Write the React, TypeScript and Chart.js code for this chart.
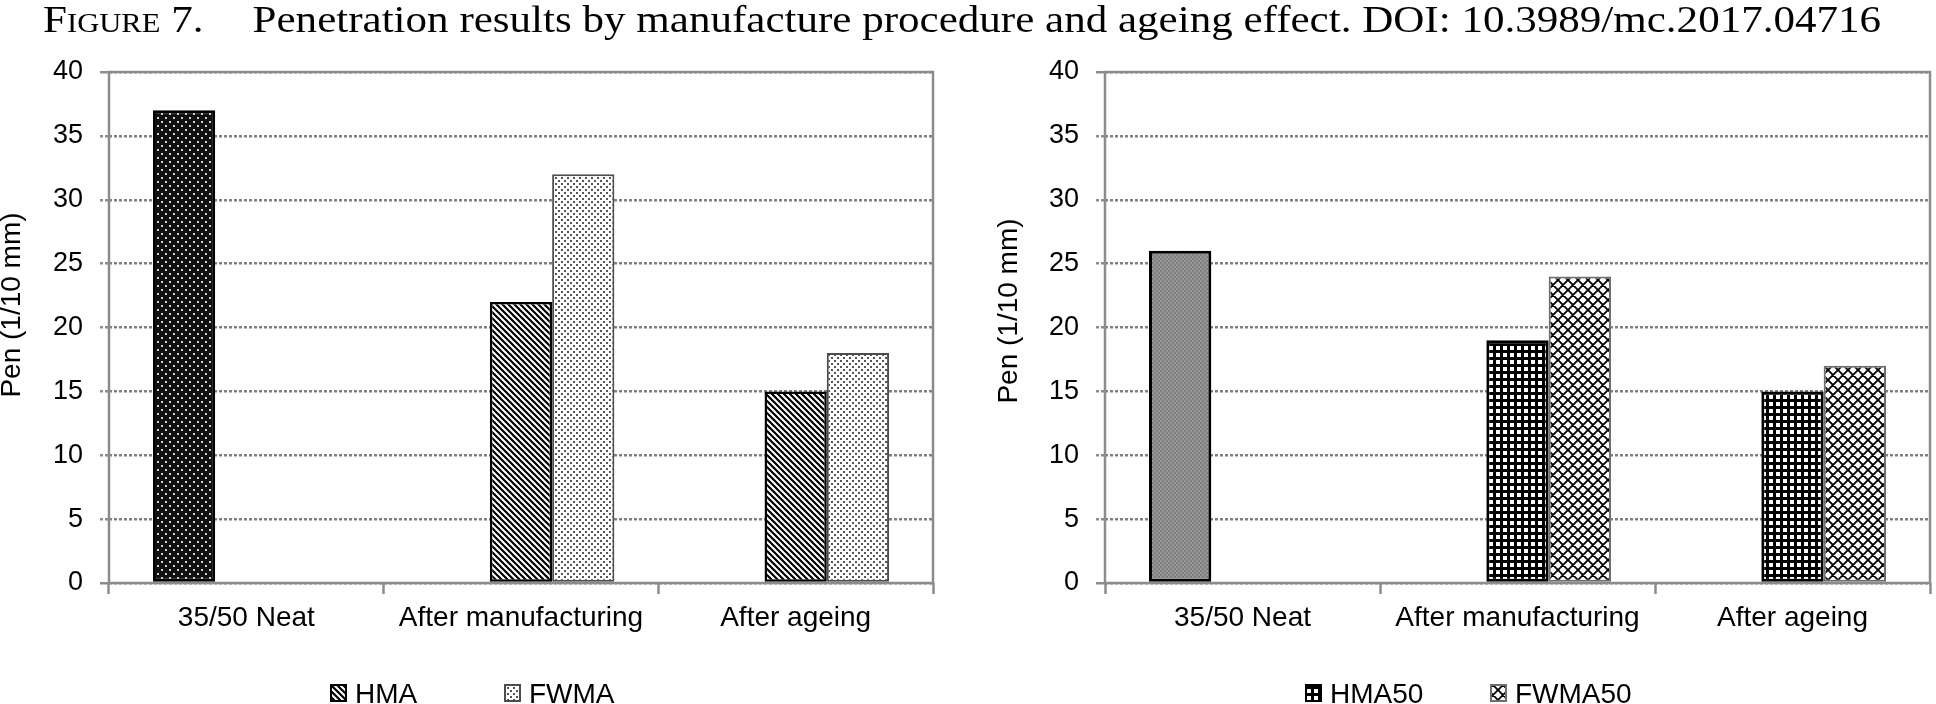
import React, { useRef, useEffect } from 'react';
import { Chart, registerables } from 'chart.js';

Chart.register(...registerables);

// penetration values (1/10 mm)
const categories = ['35/50 Neat', 'After manufacturing', 'After ageing'];
const neatPen = [37, null, null];
const hmaPen = [null, 22, 15];
const fwmaPen = [null, 32, 18];
const neat50Pen = [26, null, null];
const hma50Pen = [null, 19, 15];
const fwma50Pen = [null, 24, 17];
const yMin = 0;
const yMax = 40;
const yStep = 5;
const yTitle = 'Pen (1/10 mm)';

const GRID = '#8c8c8c';
const FONT = "'Liberation Sans', Arial, sans-serif";

type Paint = (c: CanvasRenderingContext2D, w: number, h: number) => void;

const tiles: Record<string, [number, number, Paint]> = {
  darkDots: [8, 8, (c) => {
    c.fillStyle = '#111';
    c.fillRect(0, 0, 8, 8);
    c.fillStyle = '#d0d0d0';
    c.fillRect(1, 1, 2, 2);
    c.fillRect(5, 5, 2, 2);
  }],
  stripes: [6, 6, (c) => {
    c.fillStyle = '#fff';
    c.fillRect(0, 0, 6, 6);
    c.strokeStyle = '#000';
    c.lineWidth = 2.2;
    c.beginPath();
    for (let k = -1; k <= 1; k++) {
      c.moveTo(k * 6 - 1, -1);
      c.lineTo(k * 6 + 7, 7);
    }
    c.stroke();
  }],
  lightDots: [6, 6, (c) => {
    c.fillStyle = '#fff';
    c.fillRect(0, 0, 6, 6);
    c.fillStyle = '#555';
    c.fillRect(0, 0, 2, 2);
    c.fillRect(3, 3, 2, 2);
  }],
  gray: [4, 4, (c) => {
    c.fillStyle = '#808080';
    c.fillRect(0, 0, 4, 4);
    c.fillStyle = '#969696';
    c.fillRect(0, 0, 2, 2);
    c.fillRect(2, 2, 2, 2);
  }],
  grid: [7, 7, (c) => {
    c.fillStyle = '#000';
    c.fillRect(0, 0, 7, 7);
    c.fillStyle = '#fff';
    c.fillRect(3, 3, 4, 4);
  }],
  crosshatch: [10, 10, (c) => {
    c.fillStyle = '#fff';
    c.fillRect(0, 0, 10, 10);
    c.strokeStyle = '#000';
    c.lineWidth = 1.8;
    c.beginPath();
    for (let k = -1; k <= 1; k++) {
      c.moveTo(k * 10, 0);
      c.lineTo(k * 10 + 10, 10);
      c.moveTo(k * 10 + 10, 0);
      c.lineTo(k * 10, 10);
    }
    c.stroke();
  }],
};

function makePattern(name: string): CanvasPattern | string {
  const [w, h, paint] = tiles[name];
  const cv = document.createElement('canvas');
  cv.width = w;
  cv.height = h;
  const c = cv.getContext('2d');
  if (!c) return '#888';
  paint(c, w, h);
  return c.createPattern(cv, 'repeat') || '#888';
}

type Series = {
  label: string;
  values: (number | null)[];
  tile: string;
  border: string;
  borderWidth: number;
  inLegend: boolean;
};

type Layout = {
  padRight: number;
  axisWidth: number;
  titleX: number;
  titleY: number;
  legendX: number;
  legendPitch: number;
};

const PenChart: React.FC<{ series: Series[]; layout: Layout; left: number }> = ({ series, layout, left }) => {
  const canvasRef = useRef<HTMLCanvasElement>(null);

  useEffect(() => {
    const canvas = canvasRef.current;
    if (!canvas) return;
    const ctx = canvas.getContext('2d');
    if (!ctx) return;
    const fills = series.map((s) => makePattern(s.tile));

    const decor = {
      id: 'penDecor',
      beforeDatasetsDraw(chart: Chart) {
        const { ctx: g, chartArea: a } = chart;
        g.save();
        g.strokeStyle = GRID;
        g.lineWidth = 2.5;
        g.strokeRect(a.left, a.top, a.right - a.left, a.bottom - a.top);
        g.restore();
      },
      afterDraw(chart: Chart) {
        const g = chart.ctx;
        g.save();
        g.fillStyle = '#000';
        g.font = `28px ${FONT}`;
        g.translate(layout.titleX, layout.titleY);
        g.rotate(-Math.PI / 2);
        g.textAlign = 'center';
        g.textBaseline = 'alphabetic';
        g.fillText(yTitle, 0, 0);
        g.restore();

        g.save();
        g.font = `28px ${FONT}`;
        g.textBaseline = 'alphabetic';
        let n = 0;
        series.forEach((s, i) => {
          if (!s.inLegend) return;
          const x = layout.legendX + n * layout.legendPitch;
          g.fillStyle = fills[i];
          g.fillRect(x, 684, 17, 18);
          g.strokeStyle = s.border;
          g.lineWidth = 2;
          g.strokeRect(x + 1, 685, 15, 16);
          g.fillStyle = '#000';
          g.fillText(s.label, x + 25, 703);
          n++;
        });
        g.restore();
      },
    };

    const chart = new Chart(ctx, {
      type: 'bar',
      data: {
        labels: categories,
        datasets: series.map((s, i) => ({
          label: s.label,
          data: s.values,
          backgroundColor: fills[i],
          borderColor: s.border,
          borderWidth: s.borderWidth,
          borderSkipped: false,
          categoryPercentage: 0.68,
          barPercentage: 1,
        })),
      },
      options: {
        responsive: false,
        animation: false,
        layout: { padding: { top: 72, right: layout.padRight, bottom: 0, left: 0 } },
        plugins: { legend: { display: false }, tooltip: { enabled: false } },
        scales: {
          x: {
            grid: {
              offset: true,
              drawOnChartArea: false,
              tickLength: 11,
              tickColor: GRID,
              tickWidth: 2.5,
            },
            border: { display: false },
            ticks: {
              font: { family: FONT, size: 28 },
              color: '#000',
              padding: 7,
              maxRotation: 0,
              autoSkip: false,
            },
            afterFit: (s: any) => {
              s.height = 121;
            },
          },
          y: {
            min: yMin,
            max: yMax,
            ticks: {
              stepSize: yStep,
              font: { family: FONT, size: 27 },
              color: '#000',
              padding: 17,
            },
            grid: {
              color: '#808080',
              lineWidth: 2.5,
              tickLength: 9,
              tickColor: GRID,
              tickWidth: 2.5,
              tickBorderDash: (c: any) => (c.tick && (c.tick.value === yMin || c.tick.value === yMax) ? [] : [3, 2]),
            },
            border: { display: false, dash: [3, 2] },
            afterFit: (s: any) => {
              s.width = layout.axisWidth;
            },
          },
        },
      },
      plugins: [decor],
    } as any);

    return () => {
      chart.destroy();
    };
  }, [series, layout]);

  return (
    <canvas
      ref={canvasRef}
      width={968}
      height={704}
      style={{ position: 'absolute', left, top: 0, width: 968, height: 704 }}
    />
  );
};

const leftSeries: Series[] = [
  { label: '35/50 Neat', values: neatPen, tile: 'darkDots', border: '#000', borderWidth: 3, inLegend: false },
  { label: 'HMA', values: hmaPen, tile: 'stripes', border: '#000', borderWidth: 2.5, inLegend: true },
  { label: 'FWMA', values: fwmaPen, tile: 'lightDots', border: '#4d4d4d', borderWidth: 2, inLegend: true },
];

const rightSeries: Series[] = [
  { label: '35/50 Neat', values: neat50Pen, tile: 'gray', border: '#000', borderWidth: 3, inLegend: false },
  { label: 'HMA50', values: hma50Pen, tile: 'grid', border: '#000', borderWidth: 3, inLegend: true },
  { label: 'FWMA50', values: fwma50Pen, tile: 'crosshatch', border: '#6e6e6e', borderWidth: 2, inLegend: true },
];

const leftLayout: Layout = { padRight: 35, axisWidth: 109, titleX: 20, titleY: 305, legendX: 330, legendPitch: 174 };
const rightLayout: Layout = { padRight: 6, axisWidth: 137, titleX: 49, titleY: 311, legendX: 337, legendPitch: 185 };

// the caption font in the figure is wider than Times; stretch to its measured span
const TITLE_LEFT = 43;
const TITLE_BODY_LEFT = 253;
const TITLE_RIGHT = 1882;

const Caption: React.FC = () => {
  const boxRef = useRef<HTMLDivElement>(null);
  const bodyRef = useRef<HTMLSpanElement>(null);

  useEffect(() => {
    const box = boxRef.current;
    const body = bodyRef.current;
    if (!box || !body) return;
    const a = body.offsetLeft;
    const b = body.offsetWidth;
    const s = (TITLE_RIGHT - TITLE_BODY_LEFT) / b;
    const m = (TITLE_BODY_LEFT - TITLE_LEFT) / s - a;
    body.style.marginLeft = `${m}px`;
    box.style.transform = `scaleX(${s})`;
  }, []);

  return (
    <div
      ref={boxRef}
      style={{
        position: 'absolute',
        left: TITLE_LEFT,
        top: 0,
        fontFamily: "'Liberation Serif', 'Times New Roman', serif",
        fontSize: 38,
        lineHeight: '38px',
        whiteSpace: 'nowrap',
        color: '#000',
        transformOrigin: '0 0',
      }}
    >
      <span style={{ fontVariant: 'small-caps' }}>Figure</span>
      <span> 7.</span>
      <span ref={bodyRef}>Penetration results by manufacture procedure and ageing effect. DOI: 10.3989/mc.2017.04716</span>
    </div>
  );
};

export default function App() {
  return (
    <div style={{ position: 'absolute', left: 0, top: 0, width: 1936, height: 704, background: '#fff', overflow: 'hidden' }}>
      <PenChart series={leftSeries} layout={leftLayout} left={0} />
      <PenChart series={rightSeries} layout={rightLayout} left={968} />
      <Caption />
    </div>
  );
}
